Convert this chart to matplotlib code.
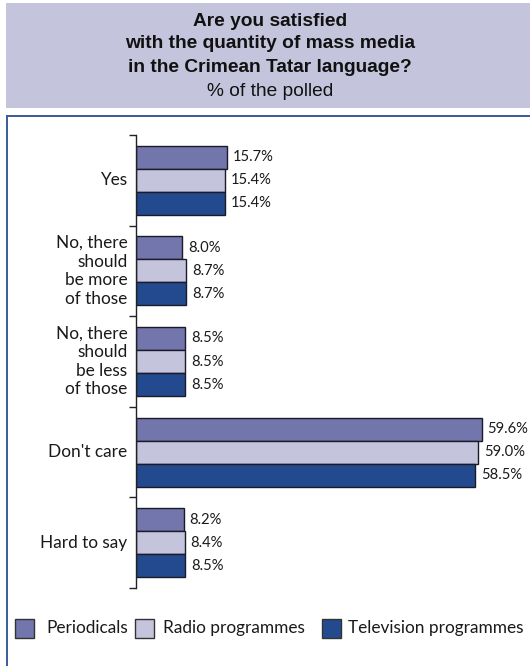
import matplotlib
matplotlib.use("Agg")
import matplotlib.pyplot as plt
from matplotlib.patches import Rectangle

categories = ["Yes", "No, there\nshould\nbe more\nof those", "No, there\nshould\nbe less\nof those",
              "Don't care", "Hard to say"]
series_names = ["Periodicals", "Radio programmes", "Television programmes"]
periodicals = [15.7, 8.0, 8.5, 59.6, 8.2]
radio = [15.4, 8.7, 8.5, 59.0, 8.4]
television = [15.4, 8.7, 8.5, 58.5, 8.5]

colors = ["#7276ac", "#c4c4dc", "#234a8e"]
W, H = 530, 666

fig = plt.figure(figsize=(W / 100, H / 100), dpi=100)
label_font = "Lato"
text_col = "#1a1a1a"

# header box and framed panel
fig.patches.append(Rectangle((6 / W, 1 - 108 / H), 1, 105 / H, transform=fig.transFigure,
                             facecolor="#c4c4dc", edgecolor="none"))
fig.patches.append(Rectangle((7 / W, -0.05), 1, 1.05 - 116 / H, transform=fig.transFigure,
                             facecolor="none", edgecolor="#3a5a9a", linewidth=1.4))

title_lines = ["Are you satisfied", "with the quantity of mass media", "in the Crimean Tatar language?"]
for i, line in enumerate(title_lines):
    fig.text(0.51, 1 - (21 + 23 * i) / H, line, ha="center", va="center", fontsize=13.8,
             fontweight="bold", family="Liberation Sans", color="#111111")
fig.text(0.51, 1 - 91 / H, "% of the polled", ha="center", va="center", fontsize=13.8,
         family="Liberation Sans", color="#111111")

x0, x1 = 136, 527
top, bottom = 135, 588
ax = fig.add_axes([x0 / W, 1 - bottom / H, (x1 - x0) / W, (bottom - top) / H])
px_per_pct = 5.8
ax.set_xlim(0, (x1 - x0) / px_per_pct)
ax.set_ylim(len(categories), 0)

bar_h = 0.254
for k, (vals, col) in enumerate(zip([periodicals, radio, television], colors)):
    for i, v in enumerate(vals):
        yc = i + 0.5 + (k - 1) * bar_h
        ax.barh(yc, v, height=bar_h, color=col, edgecolor="#1a1a2a", linewidth=1.0)
        ax.text(v + 1.0, yc, f"{v:.1f}%", va="center", ha="left", fontsize=10.6,
                family=label_font, color=text_col, clip_on=False)

for i, cat in enumerate(categories):
    ax.text(-0.022, i + 0.5, cat, transform=ax.get_yaxis_transform(), ha="right", va="center",
            fontsize=12.4, family=label_font, color=text_col, linespacing=1.2)

for s in ["top", "right", "bottom"]:
    ax.spines[s].set_visible(False)
ax.spines["left"].set_color("#222222")
ax.spines["left"].set_linewidth(1.0)
ax.set_xticks([])
ax.set_yticks(range(len(categories) + 1))
ax.set_yticklabels([])
ax.tick_params(axis="y", direction="out", length=5, width=1.0, color="#222222")

# legend row
leg_y = 1 - 628 / H
sq = 19
entries = [(15, 46), (135, 163), (322, 348)]
for (sx, tx), name, col in zip(entries, series_names, colors):
    fig.patches.append(Rectangle((sx / W, leg_y - sq / 2 / H), sq / W, sq / H, transform=fig.transFigure,
                                 facecolor=col, edgecolor="#333333", linewidth=1.0))
    fig.text(tx / W, leg_y, name, ha="left", va="center", fontsize=12.4, family=label_font,
             color=text_col)

fig.savefig("out.png", dpi=100)
